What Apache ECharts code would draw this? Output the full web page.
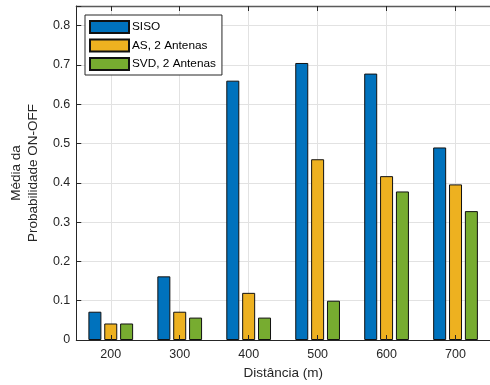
<!DOCTYPE html>
<html><head><meta charset="utf-8">
<script src="https://cdn.jsdelivr.net/npm/echarts@6/dist/echarts.min.js"></script>
<style>html,body{margin:0;padding:0;background:#fff}#c{width:490px;height:385px}</style>
</head><body><div id="c"></div>
<script>
const categories = ['200', '300', '400', '500', '600', '700'];
const sisoValues = [0.072, 0.162, 0.66, 0.705, 0.678, 0.49];
const asValues = [0.042, 0.072, 0.12, 0.46, 0.417, 0.396];
const svdValues = [0.042, 0.057, 0.057, 0.1, 0.378, 0.328];
const seriesNames = ['SISO', 'AS, 2 Antenas', 'SVD, 2 Antenas'];
const yMin = 0, yMax = 0.85, yStep = 0.1;

const FONT = "'Liberation Sans', Arial, Helvetica, sans-serif";
const TXT = '#262626';
const GRIDC = '#e2e2e2';
const colors = ['#0072BD', '#EDB120', '#77AC30'];
const dataSets = [sisoValues, asValues, svdValues];

const chart = echarts.init(document.getElementById('c'), null, {renderer: 'canvas'});
chart.setOption({
  animation: false,
  backgroundColor: '#fff',
  textStyle: {fontFamily: FONT},
  grid: {left: 74, top: 6, width: 422, height: 334, containLabel: false},
  legend: {
    orient: 'vertical', left: 85, top: 15,
    data: seriesNames,
    icon: 'rect', itemWidth: 39, itemHeight: 12, itemGap: 4.5,
    padding: [5, 6, 4, 4],
    borderColor: '#262626', borderWidth: 1, backgroundColor: '#fff',
    textStyle: {fontFamily: FONT, fontSize: 11.8, color: '#000', padding: [0, 0, 0, -2]}
  },
  xAxis: [{
    type: 'category', data: categories, position: 'bottom', z: 5,
    name: 'Distância (m)', nameLocation: 'middle', nameGap: 26,
    nameTextStyle: {fontFamily: FONT, fontSize: 13.5, color: TXT},
    axisLine: {show: true, lineStyle: {color: TXT, width: 1}},
    axisTick: {show: true, inside: true, length: 5, alignWithLabel: true, lineStyle: {color: TXT}},
    axisLabel: {fontFamily: FONT, fontSize: 12.5, color: TXT, margin: 8},
    splitLine: {show: false}
  }, {
    type: 'category', data: categories, position: 'top', z: 0,
    axisLine: {show: true, lineStyle: {color: '#5a5a5a', width: 1.3}},
    axisTick: {show: true, inside: true, length: 5, alignWithLabel: true, lineStyle: {color: TXT}},
    axisLabel: {show: false},
    splitLine: {show: true, alignWithLabel: true, lineStyle: {color: GRIDC, width: 1}}
  }],
  yAxis: {
    type: 'value', min: yMin, max: yMax, interval: yStep,
    name: 'Média da\nProbabilidade ON-OFF', nameLocation: 'middle', nameGap: 28,
    nameTextStyle: {fontFamily: FONT, fontSize: 13.5, color: TXT, lineHeight: 17},
    axisLine: {show: true, lineStyle: {color: TXT, width: 1}},
    axisTick: {show: true, inside: true, length: 5, lineStyle: {color: TXT}},
    axisLabel: {
      fontFamily: FONT, fontSize: 12.5, color: TXT, margin: 6,
      formatter: function (v) {
        const r = Math.round(v * 10);
        if (Math.abs(v * 10 - r) > 1e-6) return '';
        return r === 0 ? '0' : (r / 10).toFixed(1);
      }
    },
    splitLine: {show: true, lineStyle: {color: GRIDC, width: 1}}
  },
  series: seriesNames.map(function (n, i) {
    return {
      name: n, type: 'bar', xAxisIndex: 0, data: dataSets[i],
      barWidth: 13, barGap: '22%', z: 2,
      itemStyle: {color: colors[i], borderColor: '#111', borderWidth: 1}
    };
  })
});
</script></body></html>
